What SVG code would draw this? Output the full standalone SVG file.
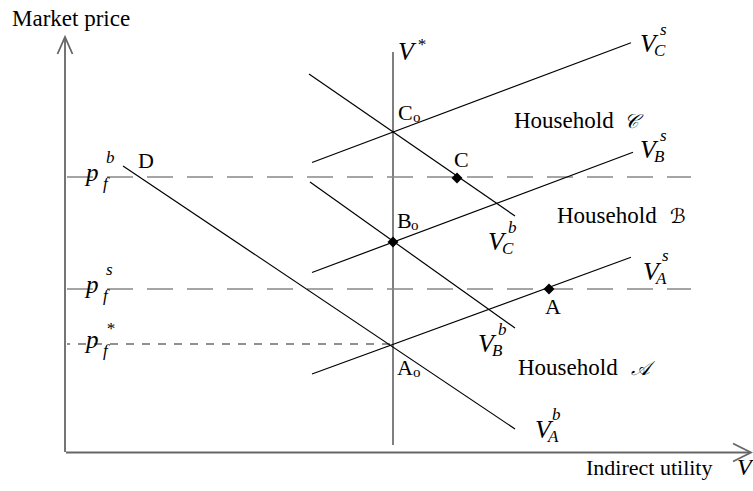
<svg xmlns="http://www.w3.org/2000/svg" width="753" height="491" viewBox="0 0 753 491">
<style>
text{font-family:"Liberation Serif","Times New Roman",serif;fill:#000}
.lbl{font-size:23px}
.pt{font-size:22px}
.sm{font-size:15px}
.it{font-style:italic}
.V{font-size:26px;font-style:italic}
.s{font-size:17px;font-style:italic}
.p{font-size:25px;font-style:italic}
.ln{stroke:#000;stroke-width:1.2;fill:none}
.ax{stroke:#666;stroke-width:1.8;fill:none}
.vs{stroke:#555;stroke-width:1.5;fill:none}
.dl{stroke:#888;stroke-width:1.6;stroke-dasharray:26 14;fill:none}
.ds{stroke:#222;stroke-width:1.2;stroke-dasharray:8 8;stroke-dashoffset:5;fill:none}
.mk{fill:#000}
.sc{font-family:"DejaVu Serif","DejaVu Sans","Noto Sans",serif;font-size:20px;font-style:italic}
</style>
<g id="axes">
<line class="ax" x1="65" y1="452" x2="65" y2="38"/>
<polyline class="ax" points="57.5,54 65,37 72.5,54"/>
<line class="ax" x1="66" y1="452.5" x2="750" y2="452.5"/>
<polyline class="ax" points="733,443.5 751,452.5 733,461.5"/>
<text class="lbl" x="12" y="26">Market price</text>
<text class="lbl" x="586" y="475" style="font-size:22px">Indirect utility</text>
<text class="V" x="737" y="475" style="font-size:24px">V</text>
</g>
<g id="connectors">
<line class="vs" x1="393" y1="52" x2="393" y2="445"/>
<line class="dl" x1="67" y1="177" x2="691" y2="177"/>
<line class="dl" x1="67" y1="289" x2="691" y2="289"/>
<line class="ds" x1="67" y1="344" x2="393" y2="344"/>
<line class="ln" x1="312" y1="162.5" x2="631" y2="42.7"/>
<line class="ln" x1="312" y1="272.5" x2="633" y2="152.3"/>
<line class="ln" x1="312" y1="374" x2="631" y2="257.3"/>
<line class="ln" x1="309" y1="74" x2="515" y2="216"/>
<line class="ln" x1="310" y1="182" x2="515" y2="328"/>
<line class="ln" x1="123" y1="166" x2="515" y2="429"/>
</g>
<g id="node-Vstar">
<text class="V" x="398" y="60">V</text>
<text class="s" x="417" y="50">*</text>
</g>
<g id="node-pfb">
<text class="p" x="86" y="181">p</text>
<text class="s" x="103" y="189">f</text>
<text class="s" x="106" y="163">b</text>
</g>
<g id="node-pfs">
<text class="p" x="86" y="293">p</text>
<text class="s" x="103" y="301">f</text>
<text class="s" x="106" y="275">s</text>
</g>
<g id="node-pfstar">
<text class="p" x="86" y="348">p</text>
<text class="s" x="103" y="356">f</text>
<text class="s" x="106" y="334">*</text>
</g>
<g id="node-VCs">
<text class="V" x="640" y="52">V</text>
<text class="s" x="654" y="56">C</text>
<text class="s" x="660" y="35">s</text>
</g>
<g id="node-VBs">
<text class="V" x="640" y="158">V</text>
<text class="s" x="654" y="162">B</text>
<text class="s" x="660" y="141">s</text>
</g>
<g id="node-VAs">
<text class="V" x="643" y="280">V</text>
<text class="s" x="656" y="284">A</text>
<text class="s" x="662" y="261">s</text>
</g>
<g id="node-VCb">
<text class="V" x="488" y="250">V</text>
<text class="s" x="502" y="254">C</text>
<text class="s" x="508" y="233">b</text>
</g>
<g id="node-VBb">
<text class="V" x="478" y="352">V</text>
<text class="s" x="492" y="356">B</text>
<text class="s" x="498" y="335">b</text>
</g>
<g id="node-VAb">
<text class="V" x="535" y="438">V</text>
<text class="s" x="548" y="442">A</text>
<text class="s" x="552" y="420">b</text>
</g>
<g id="node-Co">
<text class="pt" x="398" y="120">C</text>
<text class="sm" x="413" y="122">o</text>
</g>
<g id="node-Bo">
<polygon class="mk" points="393,236.5 398.5,242 393,247.5 387.5,242"/>
<text class="pt" x="397" y="228">B</text>
<text class="sm" x="411" y="230">o</text>
</g>
<g id="node-Ao">
<text class="pt" x="397" y="375">A</text>
<text class="sm" x="413" y="377">o</text>
</g>
<g id="node-C">
<polygon class="mk" points="457,172.5 462.5,178 457,183.5 451.5,178"/>
<text class="pt" x="454" y="167">C</text>
</g>
<g id="node-A">
<polygon class="mk" points="549,283.5 554.5,289 549,294.5 543.5,289"/>
<text class="pt" x="545" y="314">A</text>
</g>
<g id="node-D">
<text class="pt" x="138" y="168">D</text>
</g>
<g id="node-HC">
<text class="lbl" x="514" y="128">Household</text>
<text class="sc" x="624" y="128">𝒞</text>
</g>
<g id="node-HB">
<text class="lbl" x="557" y="223">Household</text>
<text class="sc" x="670" y="223">ℬ</text>
</g>
<g id="node-HA">
<text class="lbl" x="518" y="375">Household</text>
<text class="sc" x="631" y="375">𝒜</text>
</g>
</svg>
